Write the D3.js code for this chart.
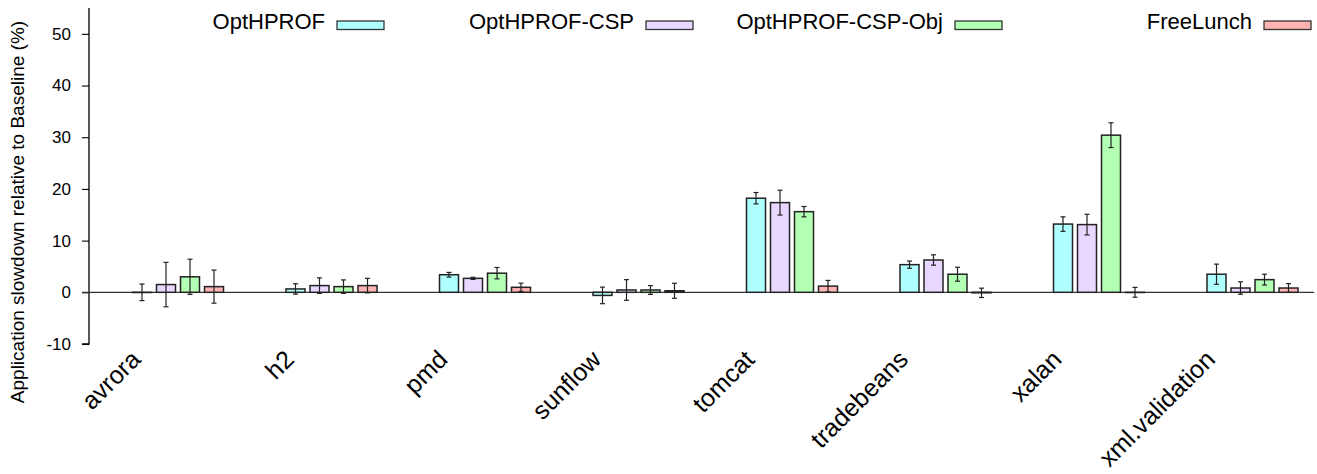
<!DOCTYPE html>
<html lang="en">
<head>
  <meta charset="UTF-8">
  <title>Application slowdown relative to Baseline</title>
  <style>
    body { margin: 0; background: #fff; }
    svg text { font-family: "Liberation Sans", Arial, Helvetica, sans-serif; fill: #000; }
    .tick-label { font-size: 17px; }
    .cat-label { font-size: 25px; }
    .legend text { font-size: 22px; }
    .ylabel { font-size: 19px; }
  </style>
</head>
<body>
  <svg id="chart"></svg>

  <script src="https://d3js.org/d3.v7.min.js"></script>
  <script>
    // data
    const benchmarks = ["avrora", "h2", "pmd", "sunflow", "tomcat", "tradebeans", "xalan", "xml.validation"];
    const seriesNames = ["OptHPROF", "OptHPROF-CSP", "OptHPROF-CSP-Obj", "FreeLunch"];
    const seriesColors = ["#b0ffff", "#e8d8ff", "#b3ffb3", "#ffb3b3"];

    const optHprof       = [0.0, 0.65, 3.4, -0.6, 18.2, 5.35, 13.2, 3.5];
    const optHprofErr    = [1.6, 1.0, 0.45, 1.6, 1.1, 0.7, 1.4, 1.95];
    const optHprofCsp    = [1.5, 1.3, 2.7, 0.45, 17.35, 6.25, 13.1, 0.83];
    const optHprofCspErr = [4.3, 1.5, 0.2, 2.0, 2.4, 1.0, 2.0, 1.2];
    const optHprofCspObj    = [3.0, 1.1, 3.7, 0.45, 15.6, 3.5, 30.4, 2.45];
    const optHprofCspObjErr = [3.4, 1.3, 1.1, 0.85, 1.0, 1.35, 2.4, 1.05];
    const freeLunch    = [1.1, 1.3, 0.97, 0.3, 1.2, -0.1, 0.0, 0.83];
    const freeLunchErr = [3.2, 1.4, 0.8, 1.45, 1.1, 0.9, 0.95, 0.85];

    const yTicks = [-10, 0, 10, 20, 30, 40, 50];

    const values = [optHprof, optHprofCsp, optHprofCspObj, freeLunch];
    const errors = [optHprofErr, optHprofCspErr, optHprofCspObjErr, freeLunchErr];

    const W = 1317, H = 474;
    const svg = d3.select("#chart").attr("width", W).attr("height", H);

    // scales
    const y = d3.scaleLinear().domain([-10, 55]).range([344, 8]);
    const x = d3.scalePoint().domain(benchmarks).range([178, 1252.5]);
    const xs = d3.scaleBand().domain(seriesNames).range([-45.5, 45.5])
      .paddingInner(5 / 24).paddingOuter(0);
    const plotLeft = 89, plotRight = 1314;

    // y axis (plain hyphen minus like the original)
    const yAxis = d3.axisLeft(y).tickValues(yTicks).tickSize(7).tickPadding(11)
      .tickFormat(d => String(d));
    const gy = svg.append("g")
      .attr("transform", `translate(${plotLeft},0)`)
      .call(yAxis);
    gy.select(".domain").attr("d", `M-7,${y(-10)}H0V${y(55)}`).attr("stroke", "#000").attr("stroke-width", 1.3);
    gy.selectAll(".tick line").attr("stroke", "#000").attr("stroke-width", 1.1);
    gy.selectAll(".tick text").attr("class", "tick-label").attr("font-size", null).attr("font-family", null);

    // zero line
    svg.append("line")
      .attr("x1", plotLeft - 7).attr("x2", plotRight)
      .attr("y1", y(0)).attr("y2", y(0))
      .attr("stroke", "#333").attr("stroke-width", 1.3);

    // y label
    svg.append("text")
      .attr("class", "ylabel")
      .attr("transform", `translate(24,212) rotate(-90)`)
      .attr("text-anchor", "middle")
      .text("Application slowdown relative to Baseline (%)");

    // bars
    const rows = [];
    benchmarks.forEach((b, i) => {
      seriesNames.forEach((s, j) => {
        rows.push({ bench: b, series: s, j: j, v: values[j][i], e: errors[j][i] });
      });
    });

    const groups = svg.append("g");
    groups.selectAll("rect.bar")
      .data(rows)
      .enter().append("rect")
      .attr("class", "bar")
      .attr("x", d => x(d.bench) + xs(d.series))
      .attr("y", d => y(Math.max(0, d.v)))
      .attr("width", xs.bandwidth())
      .attr("height", d => Math.max(0.2, Math.abs(y(d.v) - y(0))))
      .attr("fill", d => seriesColors[d.j])
      .attr("stroke", "#222")
      .attr("stroke-width", 1.5);

    // error bars
    const eb = groups.selectAll("g.err")
      .data(rows)
      .enter().append("g")
      .attr("class", "err")
      .attr("transform", d => `translate(${x(d.bench) + xs(d.series) + xs.bandwidth() / 2},0)`)
      .attr("stroke", "#222").attr("stroke-width", 1.2);
    eb.append("line")
      .attr("y1", d => y(d.v + d.e)).attr("y2", d => y(d.v - d.e));
    eb.append("line")
      .attr("x1", -2.5).attr("x2", 2.5)
      .attr("y1", d => y(d.v + d.e)).attr("y2", d => y(d.v + d.e));
    eb.append("line")
      .attr("x1", -2.5).attr("x2", 2.5)
      .attr("y1", d => y(d.v - d.e)).attr("y2", d => y(d.v - d.e));

    // category labels
    svg.append("g").selectAll("text")
      .data(benchmarks)
      .enter().append("text")
      .attr("class", "cat-label")
      .attr("text-anchor", "end")
      .attr("transform", d => `translate(${x(d) - 36},${361}) rotate(-45)`)
      .text(d => d);

    // legend
    const legend = svg.append("g").attr("class", "legend");
    const leg = legend.selectAll("g")
      .data(seriesNames)
      .enter().append("g")
      .attr("transform", (d, i) => `translate(${325 + i * 309},0)`);
    leg.append("text")
      .attr("text-anchor", "end")
      .attr("y", 29)
      .text(d => d);
    leg.append("rect")
      .attr("x", 12).attr("y", 21)
      .attr("width", 47).attr("height", 8.5)
      .attr("fill", (d, i) => seriesColors[i])
      .attr("stroke", "#333").attr("stroke-width", 1.3);
  </script>
</body>
</html>
